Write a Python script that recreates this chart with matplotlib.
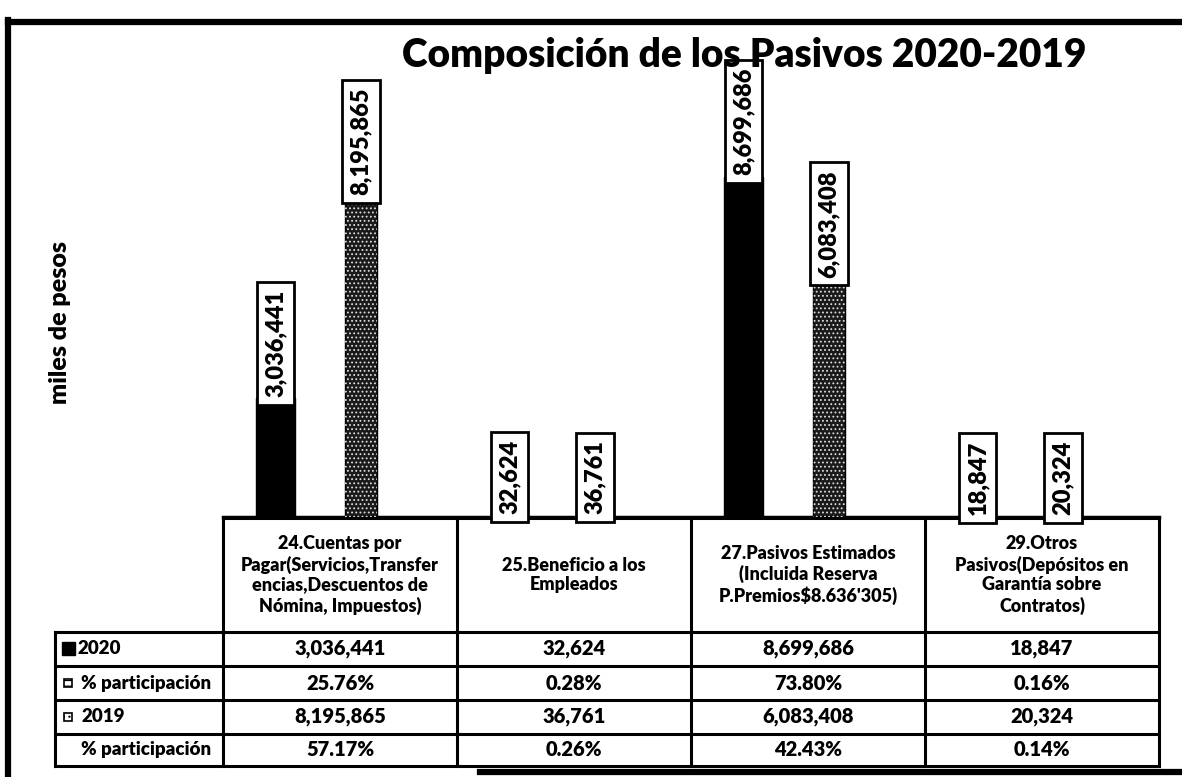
import matplotlib.pyplot as plt
from matplotlib.patches import Rectangle

plt.rcParams['font.family'] = ['Lato', 'DejaVu Sans']

# Datos (miles de pesos)
categorias = ["24.Cuentas por\nPagar(Servicios,Transfer\nencias,Descuentos de\nNómina, Impuestos)",
              "25.Beneficio a los\nEmpleados",
              "27.Pasivos Estimados\n(Incluida Reserva\nP.Premios\\$8.636'305)",
              "29.Otros\nPasivos(Depósitos en\nGarantía sobre\nContratos)"]
valores_2020 = [3036441, 32624, 8699686, 18847]
part_2020 = [25.76, 0.28, 73.80, 0.16]
valores_2019 = [8195865, 36761, 6083408, 20324]
part_2019 = [57.17, 0.26, 42.43, 0.14]
filas = ["2020", "% participación", "2019", "% participación"]

W, H = 1182, 777
fig = plt.figure(figsize=(W / 100, H / 100), dpi=100)

# capa de fondo en pixeles para marco y tabla
ov = fig.add_axes([0, 0, 1, 1])
ov.set_xlim(0, W)
ov.set_ylim(H, 0)
ov.axis('off')

ax = fig.add_axes([223 / W, 1 - 517 / H, (1159 - 223) / W, (517 - 30) / H])
ax.set_xlim(-0.5, 3.5)
ax.set_ylim(0, 12.45e6)
for s in ['top', 'right', 'left']:
    ax.spines[s].set_visible(False)
ax.spines['bottom'].set_linewidth(2.5)
ax.set_xticks([])
ax.set_yticks([])
ax.patch.set_alpha(0)

x = range(len(categorias))
x20 = [i - 0.275 for i in x]
x19 = [i + 0.09 for i in x]

ax.bar(x20, valores_2020, 0.165, color='black', edgecolor='black', zorder=2)
ax.bar(x19, valores_2019, 0.14, color='#1a1a1a', edgecolor='black', lw=1, zorder=2)
plt.rcParams['hatch.linewidth'] = 0.8
ax.bar(x19, valores_2019, 0.14, facecolor='none', edgecolor='#dddddd', hatch='....', lw=0, zorder=3)

for xs, vals in [(x20, valores_2020), (x19, valores_2019)]:
    for xi, v in zip(xs, vals):
        ax.annotate(f"{v:,}", (xi, v), xytext=(0, 1), textcoords='offset points',
                    rotation=90, ha='center', va='bottom', fontsize=17, fontweight='heavy',
                    bbox=dict(boxstyle='square,pad=0.33', fc='white', ec='black', lw=2),
                    zorder=5, annotation_clip=False)

fig.text(744 / W, 1 - 55 / H, "Composición de los Pasivos 2020-2019", ha='center', va='center',
         fontsize=28, fontweight='heavy', zorder=10)
fig.text(60 / W, 1 - 322 / H, "miles de pesos", rotation=90, ha='center', va='center',
         fontsize=18, fontweight='heavy')

# marco de la hoja
ov.plot([8, 8], [20, H], color='black', lw=4.5)
ov.plot([8, W], [22, 22], color='black', lw=4.5)
ov.plot([480, W], [772, 772], color='black', lw=4.5)

# tabla
cols = [223, 457, 691, 925, 1159]
rows = [518, 632, 666, 700, 734, 766]
lw = 2.2
for c in cols:
    ov.plot([c, c], [rows[0], rows[-1]], color='black', lw=lw)
ov.plot([55, 55], [rows[1], rows[-1]], color='black', lw=lw)
ov.plot([cols[0], cols[-1]], [rows[0], rows[0]], color='black', lw=lw)
for r in rows[1:]:
    ov.plot([55, cols[-1]], [r, r], color='black', lw=lw)

for j, cat in enumerate(categorias):
    cx = (cols[j] + cols[j + 1]) / 2
    ov.text(cx, (rows[0] + rows[1]) / 2, cat, ha='center', va='center', fontsize=13,
            fontweight='heavy', linespacing=1.2)
    celdas = [f"{valores_2020[j]:,}", f"{part_2020[j]:.2f}%", f"{valores_2019[j]:,}", f"{part_2019[j]:.2f}%"]
    for k, t in enumerate(celdas):
        ov.text(cx, (rows[k + 1] + rows[k + 2]) / 2, t, ha='center', va='center', fontsize=14.5,
                fontweight='heavy')

for k, f in enumerate(filas):
    cy = (rows[k + 1] + rows[k + 2]) / 2
    tx = 77 if k == 0 else 81
    ov.text(tx, cy, f, ha='left', va='center', fontsize=13.5, fontweight='heavy')

# marcadores de leyenda en la tabla
ov.add_patch(Rectangle((62, 642), 13, 13, fc='black', ec='black'))
ov.add_patch(Rectangle((64, 679), 8, 8, fc='white', ec='black', lw=1.2, hatch='---'))
ov.add_patch(Rectangle((64, 713), 8, 8, fc='white', ec='black', lw=1.2, hatch='...'))

fig.savefig('out.png', dpi=100)
